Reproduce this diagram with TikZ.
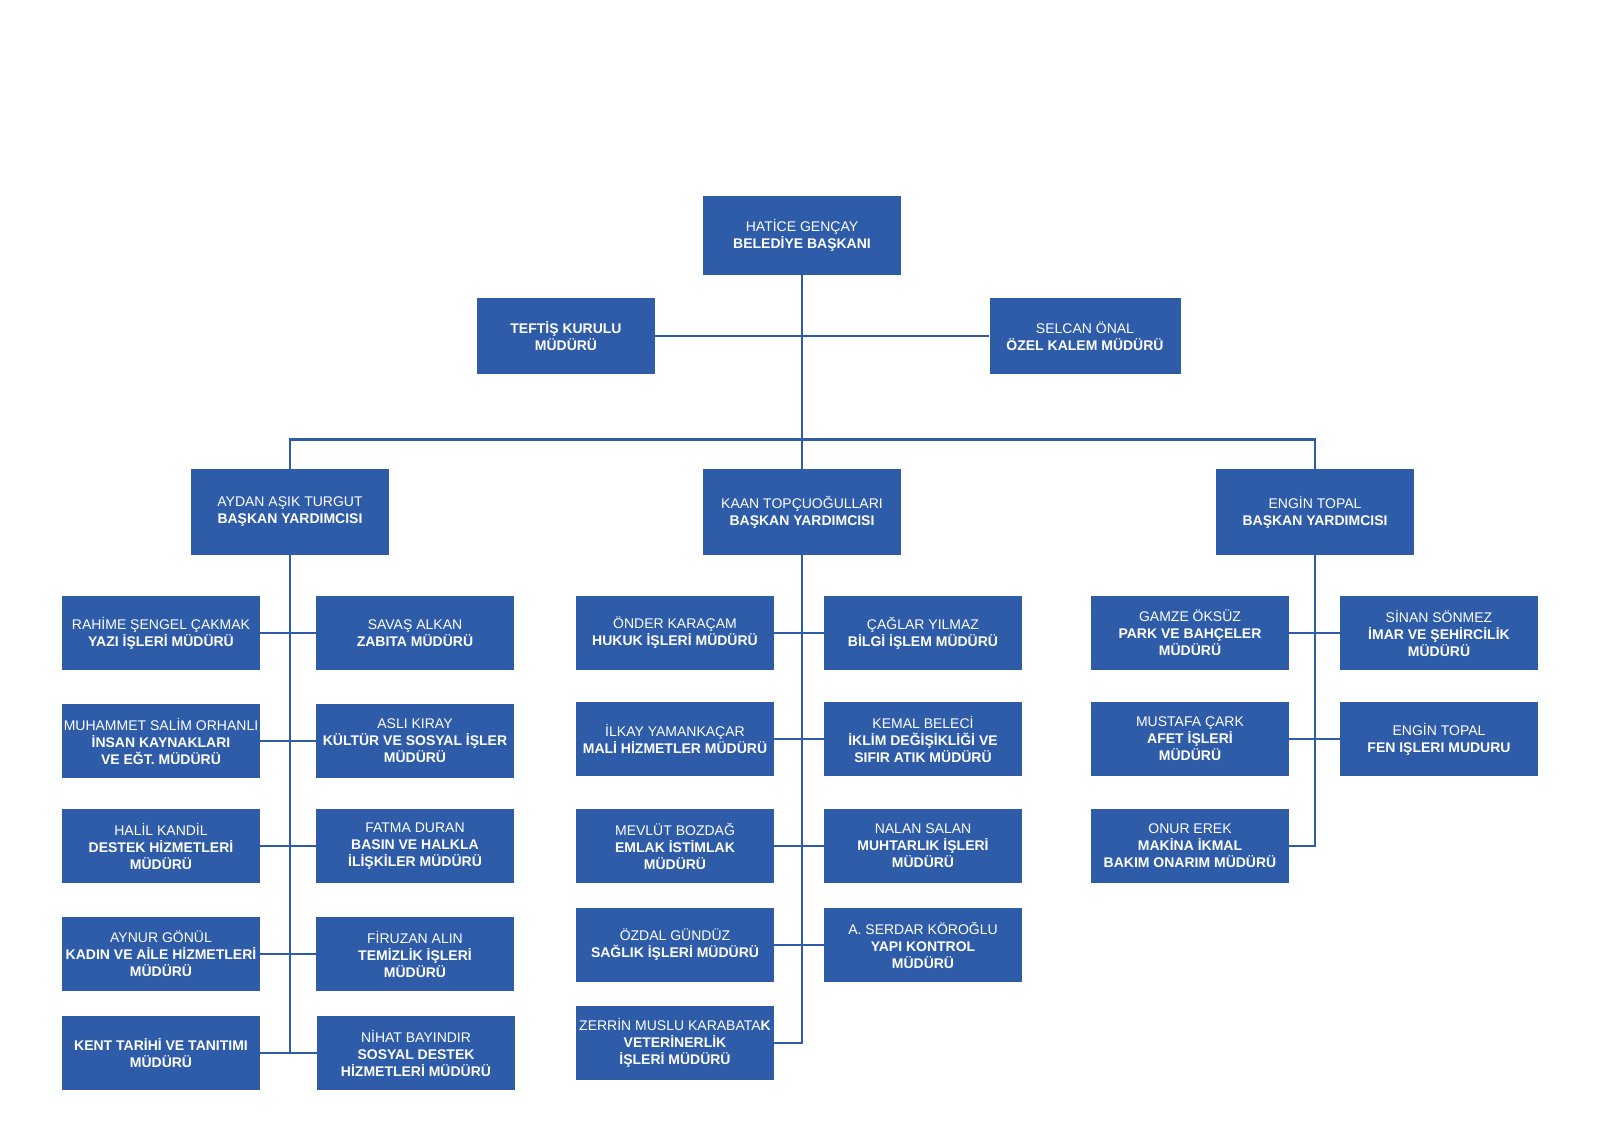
\documentclass[tikz,border=0pt]{standalone}
\usepackage{fontspec}
\setmainfont{Liberation Sans}
\definecolor{kblue}{RGB}{46,92,168}
\tikzset{%
    box/.style={rectangle, fill=kblue, text=white, align=center,
    	inner sep=0pt, minimum width=99pt, minimum height=37pt,
    	font=\fontsize{7}{8.5}\selectfont},
    vp/.style={box, minimum height=43pt},
    link/.style={draw=kblue, line width=1.4pt}
}

\begin{document}
\begin{tikzpicture}[x=0.5pt, y=-0.5pt]
  \useasboundingbox (0,0) rectangle (1600,1131);

  \node (bb) [box, minimum height=39.5pt] at (802, 235.5) {HATİCE GENÇAY\\\textbf{BELEDİYE BAŞKANI}};
  \node (tk) [box, minimum width=89pt, minimum height=38pt] at (566, 336) {\textbf{TEFTİŞ KURULU}\\\textbf{MÜDÜRÜ}};
  \node (ok) [box, minimum width=95.5pt, minimum height=38pt] at (1085, 336) {SELCAN ÖNAL\\\textbf{ÖZEL KALEM MÜDÜRÜ}};

  \node (y1) [vp] at (290, 512) {AYDAN AŞIK TURGUT\\\textbf{BAŞKAN YARDIMCISI}};
  \node (y2) [vp] at (802, 512) {KAAN TOPÇUOĞULLARI\\\textbf{BAŞKAN YARDIMCISI}};
  \node (y3) [vp] at (1315, 512) {ENGİN TOPAL\\\textbf{BAŞKAN YARDIMCISI}};

  \node (a1) [box] at (161, 633) {RAHİME ŞENGEL ÇAKMAK\\\textbf{YAZI İŞLERİ MÜDÜRÜ}};
  \node (a2) [box] at (161, 741) {MUHAMMET SALİM ORHANLI\\\textbf{İNSAN KAYNAKLARI}\\\textbf{VE EĞT. MÜDÜRÜ}};
  \node (a3) [box] at (161, 846) {HALİL KANDİL\\\textbf{DESTEK HİZMETLERİ}\\\textbf{MÜDÜRÜ}};
  \node (a4) [box] at (161, 954) {AYNUR GÖNÜL\\\textbf{KADIN VE AİLE HİZMETLERİ}\\\textbf{MÜDÜRÜ}};
  \node (a5) [box] at (161, 1053) {\textbf{KENT TARİHİ VE TANITIMI}\\\textbf{MÜDÜRÜ}};

  \node (b1) [box] at (415, 633) {SAVAŞ ALKAN\\\textbf{ZABITA MÜDÜRÜ}};
  \node (b2) [box] at (415, 741) {ASLI KIRAY\\\textbf{KÜLTÜR VE SOSYAL İŞLER}\\\textbf{MÜDÜRÜ}};
  \node (b3) [box] at (415, 846) {FATMA DURAN\\\textbf{BASIN VE HALKLA}\\\textbf{İLİŞKİLER MÜDÜRÜ}};
  \node (b4) [box] at (415, 954) {FİRUZAN ALIN\\\textbf{TEMİZLİK İŞLERİ}\\\textbf{MÜDÜRÜ}};
  \node (b5) [box] at (416, 1053) {NİHAT BAYINDIR\\\textbf{SOSYAL DESTEK}\\\textbf{HİZMETLERİ MÜDÜRÜ}};

  \node (c1) [box] at (675, 633) {ÖNDER KARAÇAM\\\textbf{HUKUK İŞLERİ MÜDÜRÜ}};
  \node (c2) [box] at (675, 739) {İLKAY YAMANKAÇAR\\\textbf{MALİ HİZMETLER MÜDÜRÜ}};
  \node (c3) [box] at (675, 846) {MEVLÜT BOZDAĞ\\\textbf{EMLAK İSTİMLAK}\\\textbf{MÜDÜRÜ}};
  \node (c4) [box] at (675, 945) {ÖZDAL GÜNDÜZ\\\textbf{SAĞLIK İŞLERİ MÜDÜRÜ}};
  \node (c5) [box] at (675, 1043) {ZERRİN MUSLU KARABATA\textbf{K}\\\textbf{VETERİNERLİK}\\\textbf{İŞLERİ MÜDÜRÜ}};

  \node (d1) [box] at (923, 633) {ÇAĞLAR YILMAZ\\\textbf{BİLGİ İŞLEM MÜDÜRÜ}};
  \node (d2) [box] at (923, 739) {KEMAL BELECİ\\\textbf{İKLİM DEĞİŞİKLİĞİ VE}\\\textbf{SIFIR ATIK MÜDÜRÜ}};
  \node (d3) [box] at (923, 846) {NALAN SALAN\\\textbf{MUHTARLIK İŞLERİ}\\\textbf{MÜDÜRÜ}};
  \node (d4) [box] at (923, 945) {A. SERDAR KÖROĞLU\\\textbf{YAPI KONTROL}\\\textbf{MÜDÜRÜ}};

  \node (e1) [box] at (1190, 633) {GAMZE ÖKSÜZ\\\textbf{PARK VE BAHÇELER}\\\textbf{MÜDÜRÜ}};
  \node (e2) [box] at (1190, 739) {MUSTAFA ÇARK\\\textbf{AFET İŞLERİ}\\\textbf{MÜDÜRÜ}};
  \node (e3) [box] at (1190, 846) {ONUR EREK\\\textbf{MAKİNA İKMAL}\\\textbf{BAKIM ONARIM MÜDÜRÜ}};

  \node (f1) [box] at (1439, 633) {SİNAN SÖNMEZ\\\textbf{İMAR VE ŞEHİRCİLİK}\\\textbf{MÜDÜRÜ}};
  \node (f2) [box] at (1439, 739) {ENGİN TOPAL\\\textbf{FEN IŞLERI MUDURU}};

  \draw [link] (bb) edge (y2);
  \draw [link] (tk) edge (ok);
  \draw [link] (y1.north) -- ++(0,-29) -| (y3.north);

  \draw [link] (y1.south) |- (a5.east);
  \draw [link] (y2.south) |- (c5.east);
  \draw [link] (y3.south) |- (e3.east);

  \draw [link] (a1) edge (b1); \draw [link] (a2) edge (b2);
  \draw [link] (a3) edge (b3); \draw [link] (a4) edge (b4);
  \draw [link] (a5) edge (b5);

  \draw [link] (c1) edge (d1); \draw [link] (c2) edge (d2);
  \draw [link] (c3) edge (d3); \draw [link] (c4) edge (d4);

  \draw [link] (e1) edge (f1); \draw [link] (e2) edge (f2);

\end{tikzpicture}
\end{document}
